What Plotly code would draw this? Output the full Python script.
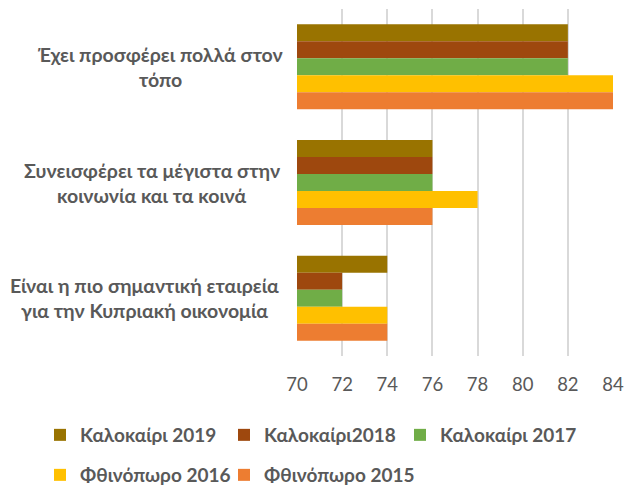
import plotly.graph_objects as go

categories = [
    "Έχει προσφέρει πολλά στον τόπο",
    "Συνεισφέρει τα μέγιστα στην κοινωνία και τα κοινά",
    "Είναι η πιο σημαντική εταιρεία για την Κυπριακή οικονομία",
]
category_lines = [
    ["Έχει προσφέρει πολλά στον", "τόπο"],
    ["Συνεισφέρει τα μέγιστα στην", "κοινωνία και τα κοινά"],
    ["Είναι η πιο σημαντική εταιρεία", "για την Κυπριακή οικονομία"],
]
series_names = ["Καλοκαίρι 2019", "Καλοκαίρι2018", "Καλοκαίρι 2017", "Φθινόπωρο 2016", "Φθινόπωρο 2015"]
values_2019 = [82, 76, 74]
values_2018 = [82, 76, 72]
values_2017 = [82, 76, 72]
values_2016 = [84, 78, 74]
values_2015 = [84, 76, 74]
colors = ["#997300", "#9E480E", "#70AD47", "#FFC000", "#ED7D31"]
x_ticks = [70, 72, 74, 76, 78, 80, 82, 84]

all_values = [values_2019, values_2018, values_2017, values_2016, values_2015]

FIG_W, FIG_H = 626, 487
ML, MR, MT, MB = 297, 13, 9, 131
PLOT_W = FIG_W - ML - MR

# legend entry positions (pixels from top-left of the figure)
legend_pos_px = [(40, 435), (224, 435), (400, 435), (40, 475), (224, 475)]
legend_ids = ["legend", "legend2", "legend3", "legend4", "legend5"]

fig = go.Figure()
for name, vals, col, lg in zip(series_names, all_values, colors, legend_ids):
    fig.add_trace(go.Bar(
        y=categories, x=[v - 70 for v in vals], base=70, orientation="h",
        name=name, marker=dict(color=col, line=dict(width=0)), legend=lg,
    ))

label_font = dict(family="Lato", size=19.5, color="#595959", weight="bold")
label_centers_px = [160, 152, 144]
for cat, lines, cpx in zip(categories, category_lines, label_centers_px):
    xp = (cpx - ML) / PLOT_W
    for line, shift in zip(lines, [12.5, -12.5]):
        fig.add_annotation(
            xref="paper", yref="y", x=xp, y=cat, text=line, yshift=shift,
            showarrow=False, xanchor="center", align="center", font=label_font,
        )

legend_font = dict(family="Lato", size=19, color="#595959", weight="bold")
legend_layouts = {}
for lg, (px, py) in zip(legend_ids, legend_pos_px):
    legend_layouts[lg] = dict(
        orientation="h", xref="container", yref="container",
        x=px / FIG_W, y=1 - py / FIG_H, xanchor="left", yanchor="middle",
        font=legend_font, itemwidth=30, bgcolor="rgba(0,0,0,0)",
    )

fig.update_layout(
    width=FIG_W, height=FIG_H,
    margin=dict(l=ML, r=MR, t=MT, b=MB, autoexpand=False),
    paper_bgcolor="white", plot_bgcolor="white",
    barmode="group", bargap=0.265, bargroupgap=0,
    showlegend=True,
    xaxis=dict(
        range=[70, 84], tickvals=x_ticks, showgrid=True, gridcolor="#D9D9D9",
        gridwidth=1.5, zeroline=False, showline=False, ticks="",
        ticklabelstandoff=15,
        tickfont=dict(family="Lato", size=18.5, color="#595959"),
    ),
    yaxis=dict(
        autorange="reversed", showticklabels=False, showgrid=False,
        zeroline=False, showline=False, ticks="",
    ),
    **legend_layouts,
)

fig.write_html(
    "out.html",
    config={"displayModeBar": False},
    post_script="document.body.style.margin='0';",
)
